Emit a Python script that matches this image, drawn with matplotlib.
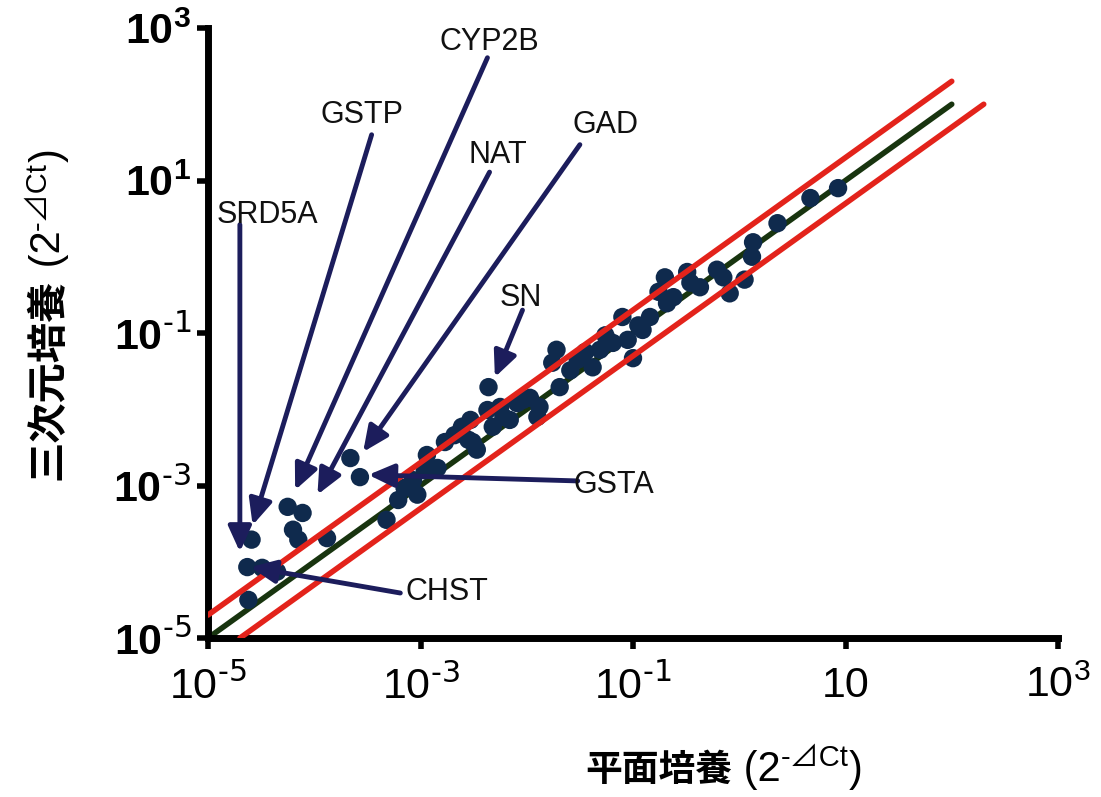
import matplotlib
matplotlib.use("Agg")
import matplotlib.pyplot as plt
import matplotlib.transforms as mtransforms
from matplotlib.patches import FancyArrowPatch
import numpy as np

plt.rcParams["font.family"] = ["Liberation Sans", "Noto Sans CJK JP", "DejaVu Sans"]
plt.rcParams["mathtext.default"] = "regular"

# ── data: log10 of 2^-dCt, flat culture (x) vs 3D culture (y) ────────────────
flat_log = [-4.62, -4.63, -4.59, -4.35, -4.49, -4.25, -4.11, -4.20, -4.15, -3.88,
            -3.66, -3.57, -3.32, -3.21, -3.07, -3.03, -2.94, -2.84, -2.77, -2.61,
            -2.51, -2.47, -2.36, -2.37, -2.32, -2.22, -2.16, -2.09, -1.90, -1.88,
            -2.04, -1.72, -1.76, -1.59, -1.69, -1.38, -1.31, -1.19, -1.10, -1.00,
            -0.91, -0.84, -0.68, -0.70, -0.62, -0.49, -0.37, -0.21, -0.15, -0.09,
            0.12, 0.13, 0.36, 0.67, 0.93, -1.52, -1.26, -1.05, -0.46, -2.68,
            -2.25, -2.55, -1.45, -2.53, -1.97, -0.95, -0.76, 0.05, -2.96, -3.15]
sph_log = [-4.50, -4.07, -3.71, -4.13, -4.08, -3.28, -3.36, -3.58, -3.71, -3.69,
           -2.64, -2.89, -3.45, -3.19, -2.93, -3.12, -2.60, -2.77, -2.43, -2.23,
           -2.43, -2.53, -1.71, -2.01, -2.23, -2.10, -2.14, -1.92, -2.10, -1.97,
           -1.88, -1.22, -1.39, -1.49, -1.71, -1.45, -1.22, -1.13, -0.79, -1.33,
           -0.96, -0.79, -0.61, -0.27, -0.53, -0.20, -0.40, -0.17, -0.27, -0.48,
           0.00, 0.19, 0.44, 0.77, 0.90, -1.35, -1.03, -1.09, -0.34, -2.34,
           -1.97, -2.40, -1.25, -2.14, -1.85, -0.90, -0.46, -0.30, -2.80, -3.03]

# annotated genes: label position, arrow tail, arrow tip (log10 units)
genes = ["SRD5A", "GSTP", "CYP2B", "NAT", "GAD", "SN", "GSTA", "CHST"]
label_x = [-4.44, -3.55, -2.35, -2.27, -1.26, -2.06, -1.56, -3.14]
label_y = [0.55, 1.86, 2.82, 1.33, 1.73, -0.54, -2.99, -4.40]
label_ha = ["center", "center", "center", "center", "center", "center", "left", "left"]
tail_x = [-4.70, -3.46, -2.37, -2.35, -1.50, -2.04, -1.52, -3.19]
tail_y = [0.42, 1.60, 2.61, 1.11, 1.47, -0.70, -2.94, -4.41]
tip_x = [-4.70, -4.58, -4.18, -3.97, -3.54, -2.30, -3.49, -4.60]
tip_y = [-3.87, -3.52, -3.06, -3.12, -2.56, -1.58, -2.86, -4.07]

# identity line and 2-fold bounds
line_lo, line_hi = 1e-5, 1e2
fold = 2.0

xticks = [1e-5, 1e-3, 1e-1, 1e1, 1e3]
xtick_labels = [r"$10^{\text{-5}}$", r"$10^{\text{-3}}$", r"$10^{\text{-1}}$", "10",
                r"$10^{3}$"]
yticks = [1e-5, 1e-3, 1e-1, 1e1, 1e3]
ytick_labels = [r"$10^{\text{-5}}$", r"$10^{\text{-3}}$", r"$10^{\text{-1}}$",
                r"$10^{1}$", r"$10^{3}$"]

NAVY = "#0f2a4d"
ARROW = "#1c1d5c"
RED = "#e3231b"
GREEN = "#18340f"

fig = plt.figure(figsize=(11.01, 7.97), dpi=100)
W, H = 1101, 797
ax = fig.add_axes([208 / W, 1 - 638 / H, (1058 - 208) / W, (638 - 28) / H])
ax.set_xscale("log")
ax.set_yscale("log")
ax.set_xlim(1e-5, 1e3)
ax.set_ylim(1e-5, 1e3)

# lines
ax.plot([line_lo, line_hi], [line_lo, line_hi], color=GREEN, lw=4, zorder=2,
        solid_capstyle="round")
ax.scatter(10 ** np.array(flat_log), 10 ** np.array(sph_log), s=175, color=NAVY,
           edgecolors="none", zorder=3)
ax.plot([line_lo, line_hi], [line_lo * fold, line_hi * fold], color=RED, lw=4,
        zorder=4, solid_capstyle="round")
ax.plot([line_lo * fold, line_hi * fold], [line_lo, line_hi], color=RED, lw=4,
        zorder=4, solid_capstyle="round")

# annotations
for g, lx, ly, ha, tx, ty, px, py in zip(genes, label_x, label_y, label_ha,
                                          tail_x, tail_y, tip_x, tip_y):
    ax.text(10 ** lx, 10 ** ly, g, fontsize=22, ha=ha, va="center", color="#111111",
            zorder=6)
    arr = FancyArrowPatch((10 ** tx, 10 ** ty), (10 ** px, 10 ** py),
                          arrowstyle="-|>,head_length=1.1,head_width=0.5",
                          mutation_scale=14, lw=3.5, color=ARROW,
                          shrinkA=0, shrinkB=0, zorder=5)
    ax.add_patch(arr)

# axes styling
for side in ["top", "right"]:
    ax.spines[side].set_visible(False)
for side in ["left", "bottom"]:
    ax.spines[side].set_linewidth(5)
    ax.spines[side].set_capstyle("projecting")
ax.minorticks_off()
ax.set_xticks(xticks)
ax.set_xticklabels(xtick_labels)
ax.set_yticks(yticks)
ax.set_yticklabels(ytick_labels)
ax.tick_params(axis="both", which="major", length=8, width=4, direction="out")
ax.tick_params(axis="x", pad=12, labelsize=31)
ax.tick_params(axis="y", pad=4, labelsize=31)
for lab in ax.get_yticklabels():
    lab.set_fontweight("bold")

# axis labels with superscript 2^-⊿Ct, laid out piece by piece in pixels
ident = mtransforms.IdentityTransform()
fig.canvas.draw()
renderer = fig.canvas.get_renderer()


def rich_label(x0, y0, parts, vertical=False):
    pos = y0 if vertical else x0
    for txt, size, shift, weight in parts:
        if vertical:
            t = fig.text(x0 - shift, pos, txt, fontsize=size, rotation=90,
                         rotation_mode="anchor", ha="left", va="baseline",
                         transform=ident, fontweight=weight)
            pos += t.get_window_extent(renderer).height
        else:
            t = fig.text(pos, y0 + shift, txt, fontsize=size, ha="left",
                         va="baseline", transform=ident, fontweight=weight)
            pos += t.get_window_extent(renderer).width


rich_label(585, 16, [("平面培養", 26.5, 0, "bold"), (" (2", 30, 0, "normal"),
                     ("-⊿Ct", 21, 15, "normal"), (")", 30, 0, "normal")])
rich_label(60, 317, [("三次元培養", 29, 0, "bold"), (" (2", 30, 0, "normal"),
                     ("-⊿Ct", 21, 14, "normal"), (")", 30, 0, "normal")],
           vertical=True)

fig.savefig("out.png", dpi=100)
